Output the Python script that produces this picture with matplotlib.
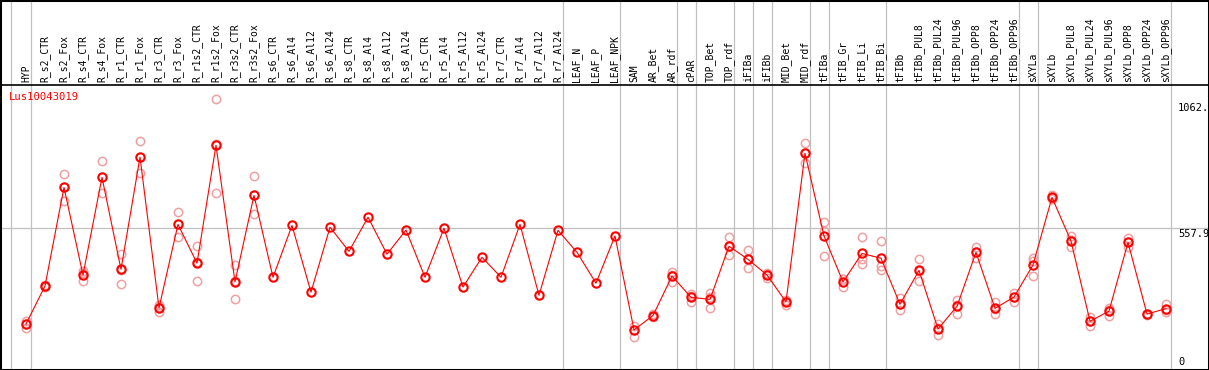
import numpy as np
import matplotlib
matplotlib.use("Agg")
import matplotlib.pyplot as plt
from matplotlib.patches import Rectangle


# ── Data ─────────────────────────────────────────────────────────────────────
GENE = "Lus10043019"

labels = [
    "HYP", "R_s2_CTR", "R_s2_Fox", "R_s4_CTR", "R_s4_Fox", "R_r1_CTR", "R_r1_Fox",
    "R_r3_CTR", "R_r3_Fox", "R_r1s2_CTR", "R_r1s2_Fox", "R_r3s2_CTR", "R_r3s2_Fox",
    "R_s6_CTR", "R_s6_Al4", "R_s6_Al12", "R_s6_Al24",
    "R_s8_CTR", "R_s8_Al4", "R_s8_Al12", "R_s8_Al24",
    "R_r5_CTR", "R_r5_Al4", "R_r5_Al12", "R_r5_Al24",
    "R_r7_CTR", "R_r7_Al4", "R_r7_Al12", "R_r7_Al24",
    "LEAF_N", "LEAF_P", "LEAF_NPK", "SAM", "AR_Bet", "AR_rdf", "cPAR",
    "TOP_Bet", "TOP_rdf", "iFIBa", "iFIBb", "MID_Bet", "MID_rdf", "tFIBa",
    "tFIB_Gr", "tFIB_Li", "tFIB_Bi", "tFIBb", "tFIBb_PUL8", "tFIBb_PUL24",
    "tFIBb_PUL96", "tFIBb_OPP8", "tFIBb_OPP24", "tFIBb_OPP96", "sXYLa", "sXYLb",
    "sXYLb_PUL8", "sXYLb_PUL24", "sXYLb_PUL96", "sXYLb_OPP8", "sXYLb_OPP24",
    "sXYLb_OPP96",
]

means = [
    185, 333, 717, 376, 756, 398, 835, 248, 573, 422, 881, 349, 686,
    367, 569, 309, 562, 468, 601, 457, 551, 367, 558, 329, 445,
    367, 573, 297, 550, 464, 344, 528, 162, 218, 372, 289,
    281, 488, 437, 376, 271, 850, 528, 349, 460, 441, 262, 394, 166,
    254, 464, 246, 290, 415, 678, 508, 196, 235, 503, 224, 245,
]

replicates = [
    [198, 185, 169], [336, 330], [768, 665, 717], [392, 354, 382],
    [819, 694, 756], [458, 340, 396], [896, 772, 837], [258, 233, 253],
    [620, 523, 576], [488, 351, 427], [1062.67, 694, 887], [414, 281, 352],
    [760, 612, 686],
    [], [], [], [], [], [], [], [], [], [], [], [], [], [], [], [], [], [], [],
    [179, 134, 162], [225, 211], [389, 350, 376], [301, 272, 294],
    [305, 249, 289], [523, 453, 488], [472, 402, 437], [385, 363, 380],
    [276, 259, 278], [889, 811, 850], [581, 449, 548], [359, 328, 360],
    [523, 418, 439], [507, 411, 395], [285, 239, 262], [437, 354, 391],
    [186, 141, 171], [278, 225, 259], [484, 441, 467], [270, 223, 245],
    [306, 272, 292], [441, 372, 432], [687, 671, 676], [529, 484, 511],
    [214, 179, 195], [249, 218, 238], [519, 486, 504], [226, 222],
    [263, 233, 239],
]

# group separators sit just after the last sample of each group
group_ends = [-0.79, 0.24, 28.24, 31.24, 34.24, 35.24, 37.24, 38.24, 39.24,
              41.24, 42.24, 45.24, 52.24, 53.24, 60.24]

y_max = max(max(r) for r in replicates if r)
y_top = y_max * 1.05
y_mid = y_top / 2


# ── Figure ───────────────────────────────────────────────────────────────────
W, H = 1209, 370
MONO = "DejaVu Sans Mono"
GRID = "#c0c0c0"

fig = plt.figure(figsize=(W / 100, H / 100), dpi=100)
ax = fig.add_axes([1 / W, 0, 1207 / W, 285 / H])

x = np.arange(len(labels))
ax.set_xlim((1 - 26) / 19, (1208 - 26) / 19)
ax.set_ylim(6, y_top)

# grid lines (vertical ones run through the header too)
header_frac = 1 + 85 / 285
for g in group_ends:
    ax.axvline(g, ymin=0, ymax=header_frac, color=GRID, lw=0.9,
               clip_on=False, zorder=0)
ax.axhline(y_mid, color=GRID, lw=0.9, zorder=0)

# replicates
rx = np.concatenate([[i] * len(r) for i, r in enumerate(replicates)])
ry = np.concatenate([r for r in replicates if r])
ax.plot(rx, ry, "o", ms=6, mfc="none", mec="#f0a0a0", mew=1.1, zorder=2)

# means
ax.plot(x, means, "-", color="red", lw=0.8, zorder=3)
ax.plot(x, means, "o", ms=6, mfc="none", mec="red", mew=1.5, zorder=4)

# header labels
ax.xaxis.tick_top()
ax.set_xticks(x)
ax.set_xticklabels(labels, rotation=90, fontfamily=MONO, fontsize=7)
ax.tick_params(axis="x", length=0, pad=2.2)
ax.set_yticks([])

for side in ("left", "right"):
    ax.spines[side].set_visible(False)
for side in ("top", "bottom"):
    ax.spines[side].set_color("black")
    ax.spines[side].set_linewidth(1.2)

# value labels on the right (cut to five characters like the original)
lab_x = (1178 - 26) / 19
ax.annotate(str(y_max)[:5], (lab_x, y_max), xytext=(0, -3),
            textcoords="offset points", va="top", ha="left",
            fontfamily=MONO, fontsize=7.5)
ax.annotate(str(round(y_mid, 1))[:5], (lab_x, y_mid), xytext=(0, -0.5),
            textcoords="offset points", va="top", ha="left",
            fontfamily=MONO, fontsize=7.5)
ax.annotate("0", (lab_x, 6), xytext=(0, 2.5),
            textcoords="offset points", va="bottom", ha="left",
            fontfamily=MONO, fontsize=7.5)

# gene name
fig.text(9 / W, 1 - 97 / H, GENE, color="red", fontfamily=MONO,
         fontsize=7.6, va="center", ha="left")

# outer frame
fig.add_artist(Rectangle((0, 0), 1, 1, transform=fig.transFigure,
                         fill=False, ec="black", lw=2.2))

fig.savefig("out.png", dpi=100)
